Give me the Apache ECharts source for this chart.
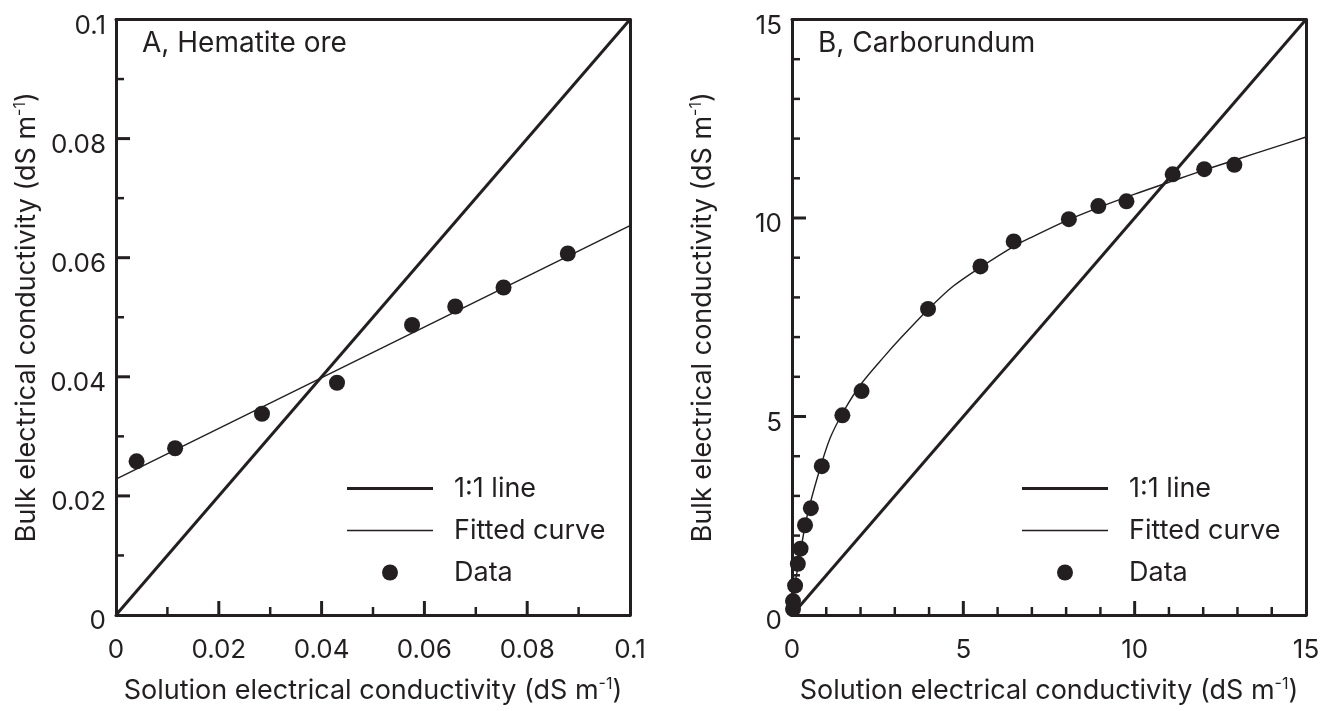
<!DOCTYPE html>
<html>
<head>
<meta charset="utf-8">
<script src="https://cdn.jsdelivr.net/npm/echarts@6/dist/echarts.min.js"></script>
<style>
html,body{margin:0;padding:0;background:#fff;}
#chart{width:1337px;height:711px;}
</style>
</head>
<body>
<div id="chart"></div>
<script>
// ---- Panel A: Hematite ore ----
const hemX = [0.004, 0.0115, 0.0284, 0.043, 0.0576, 0.066, 0.0754, 0.0879];
const hemY = [0.0258, 0.0280, 0.0338, 0.0390, 0.0487, 0.0518, 0.0550, 0.0607];
const hemFitX = [0, 0.1];
const hemFitY = [0.0228, 0.0654];
const hemOneX = [0, 0.1];
const hemOneY = [0, 0.1];
const hemMajorTicks = [0.02, 0.04, 0.06, 0.08];
const hemMinorTicks = [0.01, 0.03, 0.05, 0.07, 0.09];

// ---- Panel B: Carborundum ----
const carX = [0.03, 0.03, 0.09, 0.17, 0.25, 0.38, 0.55, 0.87, 1.47, 2.03, 3.97, 5.50, 6.47, 8.08, 8.94, 9.76, 11.11, 12.03, 12.91];
const carY = [0.15, 0.35, 0.74, 1.29, 1.67, 2.26, 2.69, 3.75, 5.03, 5.64, 7.71, 8.78, 9.41, 9.97, 10.30, 10.42, 11.10, 11.23, 11.34];
const carFitX = [0, 0.05, 0.18, 0.43, 0.77, 1.11, 1.5, 2.0, 2.7, 3.2, 4.0, 4.7, 5.5, 6.5, 7.0, 8.0, 9.0, 10.0, 11.0, 12.0, 13.0, 14.0, 15.0];
const carFitY = [0, 0.55, 1.25, 2.45, 3.55, 4.45, 5.12, 5.8, 6.52, 7.0, 7.72, 8.28, 8.76, 9.3, 9.52, 9.93, 10.28, 10.6, 10.9, 11.2, 11.48, 11.76, 12.04];
const carOneX = [0, 15];
const carOneY = [0, 15];
const carMajorTicks = [5, 10];
const carMinorTicks = [1, 2, 3, 4, 6, 7, 8, 9, 11, 12, 13, 14];

// ---- Labels ----
const panelTitles = ['A, Hematite ore', 'B, Carborundum'];
const legendNames = ['1:1 line', 'Fitted curve', 'Data'];
const xName = 'Solution electrical conductivity (dS m{sup|-1})';
const yName = 'Bulk electrical conductivity (dS m{sup|-1})';

const C = '#231f20';
const FONT = 'Inter';
const MAJOR_LEN = 14, MINOR_LEN = 8;
const pairs = (xs, ys) => xs.map((x, i) => [x, ys[i]]);

function axis(gridIndex, max, interval, isY) {
  return {
    type: 'value', gridIndex, min: 0, max, interval,
    position: isY ? 'left' : 'bottom',
    axisLine: { show: true, onZero: false, lineStyle: { color: C, width: 3 } },
    axisTick: { show: false },
    minorTick: { show: false },
    splitLine: { show: false },
    axisLabel: isY
      ? { fontSize: 26, color: C, fontFamily: FONT, margin: 10, lineHeight: 13,
          formatter: v => '\n' + String(Number(v.toFixed(4))) }
      : { fontSize: 26, color: C, fontFamily: FONT, margin: 22 },
    name: isY ? yName : xName,
    nameLocation: 'middle',
    nameGap: isY ? 74 : 61,
    nameTextStyle: {
      fontSize: 27, color: C, fontFamily: FONT, lineHeight: 30,
      rich: { sup: { fontSize: 16, color: C, fontFamily: FONT, verticalAlign: 'top', lineHeight: 16 } }
    }
  };
}

function frame(gridIndex, max, isY) {
  return {
    type: 'value', gridIndex, min: 0, max,
    position: isY ? 'right' : 'top',
    axisLine: { show: true, onZero: false, lineStyle: { color: C, width: 3 } },
    axisTick: { show: false }, axisLabel: { show: false },
    splitLine: { show: false }, minorTick: { show: false }
  };
}

function legend(left) {
  return {
    left, top: 470, orient: 'vertical', itemWidth: 86, itemHeight: 16, itemGap: 15,
    selectedMode: false,
    data: [
      { name: legendNames[0], icon: 'path://M0,0H86V3H0Z' },
      { name: legendNames[1], icon: 'path://M0,0H86V1.4H0Z' },
      { name: legendNames[2], icon: 'circle' }
    ],
    textStyle: { fontSize: 27, color: C, fontFamily: FONT, padding: [0, 0, 0, 16] }
  };
}

// One custom series per axis draws both major and minor ticks, placed through the axis scale.
// Row: [x, y, isMajor]
function tickSeries(idx, majors, minors, isY) {
  const rows = [];
  majors.forEach(v => rows.push(isY ? [0, v, 1] : [v, 0, 1]));
  minors.forEach(v => rows.push(isY ? [0, v, 0] : [v, 0, 0]));
  return {
    type: 'custom', xAxisIndex: idx, yAxisIndex: idx, clip: false, z: 10,
    dimensions: ['x', 'y', 'major'],
    data: rows,
    encode: { x: 0, y: 1 },
    renderItem: function (params, api) {
      const p = api.coord([api.value(0), api.value(1)]);
      const major = api.value(2) === 1;
      const len = major ? MAJOR_LEN : MINOR_LEN;
      const w = major ? 3 : 2.5;
      return {
        type: 'line',
        shape: isY ? { x1: p[0], y1: p[1], x2: p[0] + len, y2: p[1] }
                   : { x1: p[0], y1: p[1], x2: p[0], y2: p[1] - len },
        style: { stroke: C, lineWidth: w }
      };
    }
  };
}

const chart = echarts.init(document.getElementById('chart'), null, { renderer: 'canvas' });
chart.setOption({
  animation: false,
  backgroundColor: '#fff',
  title: [
    { text: panelTitles[0], left: 142, top: 30, padding: 0, textStyle: { fontSize: 28, fontWeight: 'normal', color: C, fontFamily: FONT } },
    { text: panelTitles[1], left: 818, top: 30, padding: 0, textStyle: { fontSize: 28, fontWeight: 'normal', color: C, fontFamily: FONT } }
  ],
  legend: [legend(342), legend(1017)],
  grid: [
    { left: 116, top: 15, width: 514, height: 604 },
    { left: 792, top: 15, width: 514, height: 604 }
  ],
  xAxis: [axis(0, 0.1, 0.02, false), axis(1, 15, 5, false), frame(0, 0.1, false), frame(1, 15, false)],
  yAxis: [axis(0, 0.1, 0.02, true), axis(1, 15, 5, true), frame(0, 0.1, true), frame(1, 15, true)],
  series: [
    { name: legendNames[0], type: 'line', xAxisIndex: 0, yAxisIndex: 0, data: pairs(hemOneX, hemOneY), symbol: 'none', lineStyle: { color: C, width: 3 }, itemStyle: { color: C }, z: 3 },
    { name: legendNames[1], type: 'line', xAxisIndex: 0, yAxisIndex: 0, data: pairs(hemFitX, hemFitY), symbol: 'none', lineStyle: { color: C, width: 1.4 }, itemStyle: { color: C }, z: 3 },
    { name: legendNames[2], type: 'scatter', xAxisIndex: 0, yAxisIndex: 0, data: pairs(hemX, hemY), symbol: 'circle', symbolSize: 16, itemStyle: { color: C, opacity: 1 }, z: 4 },
    { name: legendNames[0], type: 'line', xAxisIndex: 1, yAxisIndex: 1, data: pairs(carOneX, carOneY), symbol: 'none', lineStyle: { color: C, width: 3 }, itemStyle: { color: C }, z: 3 },
    { name: legendNames[1], type: 'line', xAxisIndex: 1, yAxisIndex: 1, data: pairs(carFitX, carFitY), symbol: 'none', smooth: 0.3, lineStyle: { color: C, width: 1.4 }, itemStyle: { color: C }, z: 3 },
    { name: legendNames[2], type: 'scatter', xAxisIndex: 1, yAxisIndex: 1, data: pairs(carX, carY), symbol: 'circle', symbolSize: 16, itemStyle: { color: C, opacity: 1 }, z: 4 },
    tickSeries(0, hemMajorTicks, hemMinorTicks, false),
    tickSeries(0, hemMajorTicks, hemMinorTicks, true),
    tickSeries(1, carMajorTicks, carMinorTicks, false),
    tickSeries(1, carMajorTicks, carMinorTicks, true)
  ]
});
</script>
</body>
</html>
